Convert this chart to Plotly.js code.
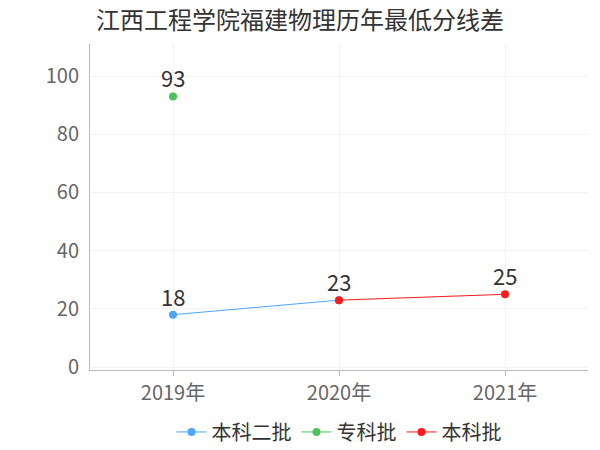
<!DOCTYPE html>
<html><head><meta charset="utf-8">
<script src="https://cdn.plot.ly/plotly-3.0.1.min.js"></script>
<style>body{margin:0}#c{width:600px;height:450px}</style>
</head><body><div id="c"></div>
<script>
const categories = ['2019年','2020年','2021年'];
const s1x = ['2019年','2020年']; const s1y = [18, 23]; // 本科二批
const s2x = ['2019年']; const s2y = [93]; // 专科批
const s3x = ['2020年','2021年']; const s3y = [23, 25]; // 本科批
const names = ['本科二批','专科批','本科批'];
const colors = ['#4da6ff','#4dc25a','#ff1a1a'];
const F = '"Noto Sans CJK SC", "Noto Sans", sans-serif';
function tr(x,y,i){return {x:x,y:y,name:names[i],type:'scatter',mode:'lines+markers',
 line:{color:colors[i],width:1},marker:{color:colors[i],size:8},cliponaxis:false};}
const series=[[s1x,s1y],[s2x,s2y],[s3x,s3y]];
const data=series.map((s,i)=>tr(s[0],s[1],i));
const annotations=[]; const seen={};
series.forEach(s=>s[0].forEach((x,j)=>{const k=x+'|'+s[1][j]; if(seen[k])return; seen[k]=1;
 annotations.push({x:x,y:s[1][j],text:String(s[1][j]),showarrow:false,
 yanchor:'middle',yshift:19,font:{size:22,color:'#333',family:F}});}));
const layout={width:600,height:450,margin:{l:90,r:12,t:44,b:80,autoexpand:false},
 paper_bgcolor:'#fff',plot_bgcolor:'#fff',font:{family:F},annotations:annotations,
 title:{text:'江西工程学院福建物理历年最低分线差',x:0.5,xanchor:'center',yref:'container',y:0.955,yanchor:'middle',font:{size:24,color:'#333',family:F}},
 xaxis:{type:'category',categoryarray:categories,range:[-0.5,2.5],showline:true,linecolor:'#bbb',linewidth:1,automargin:false,
  showgrid:true,gridcolor:'#f3f3f3',ticks:'outside',ticklen:5,tickcolor:'#bbb',tickfont:{size:20,color:'#666',family:F},zeroline:false},
 yaxis:{range:[-1,111],tickvals:[0,20,40,60,80,100],showline:true,linecolor:'#bbb',linewidth:1,automargin:false,
  showgrid:true,gridcolor:'#f3f3f3',ticks:'',ticklabelstandoff:6,tickfont:{size:20,color:'#666',family:F},zeroline:false},
 legend:{orientation:'h',x:0.5,xanchor:'center',y:-0.19,yanchor:'middle',font:{size:20,color:'#333',family:F},itemwidth:30,tracegroupgap:0},
 showlegend:true};
Plotly.newPlot('c',data,layout,{displayModeBar:false});
</script></body></html>
